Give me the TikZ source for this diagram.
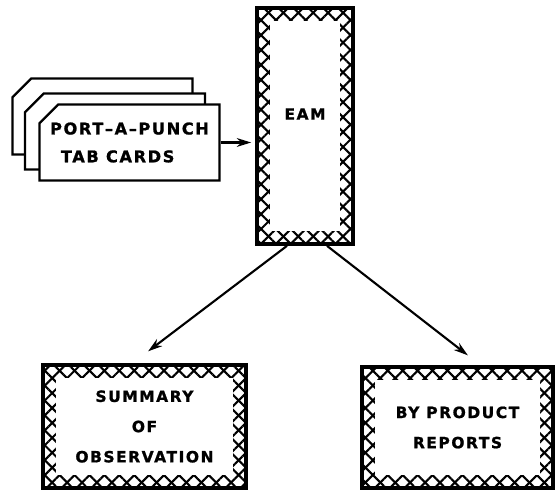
\documentclass[tikz,border=0pt]{standalone}
\usepackage{fontspec}
\newfontfamily\labelfont[LetterSpace=10,FakeBold=1.2]{DejaVu Sans}
\usepackage{tikz}
\usetikzlibrary{arrows.meta, positioning, shapes.misc, patterns.meta}

\begin{document}
\begin{tikzpicture}[
    x=0.025cm, y=-0.025cm,
    every node/.style={font=\labelfont\bfseries\fontsize{11pt}{21.5pt}\selectfont},
    card/.style={chamfered rectangle, chamfered rectangle corners=north west,
        chamfered rectangle xsep=0.2cm, chamfered rectangle ysep=0.27cm,
        draw, fill=white, line width=1.6pt, minimum width=4.5cm, minimum height=1.9cm,
        inner sep=0pt},
    backcard/.style={card, text width=4cm, text height=1cm},
    hatchbox/.style={draw, line width=2.6pt, inner sep=0pt, align=center,
        path picture={
            \foreach \a in {45,-45}
                \fill[pattern={Lines[angle=\a, distance=7.5pt, line width=1.5pt]}, even odd rule]
                    (path picture bounding box.south west) rectangle (path picture bounding box.north east)
                    ([shift={(0.32cm,0.32cm)}]path picture bounding box.south west) rectangle
                    ([shift={(-0.32cm,-0.32cm)}]path picture bounding box.north east);
        }},
    flow/.style={-{Stealth[length=3.6mm, width=2.2mm]}, line width=1.5pt}
]
    \useasboundingbox (0,0) rectangle (558,490);

    \node[backcard] (card3) at (102.5,116.5) {};
    \node[backcard] (card2) at (115,131.5) {};
    \node[card, align=left, font=\labelfont\bfseries\fontsize{11.5pt}{19.8pt}\selectfont] (card1) at (129.5,142.5)
        {PORT–A–PUNCH\\\hspace{0.27cm}TAB CARDS};

    \node[hatchbox, minimum width=2.4cm, minimum height=5.9cm, text depth=0.6cm] (eam) at (305,126) {EAM};
    \node[hatchbox, minimum width=5.075cm, minimum height=3.075cm] (summary) at (144.5,426.5) {SUMMARY\\OF\\OBSERVATION};
    \node[hatchbox, minimum width=4.775cm, minimum height=3.025cm] (byprod) at (457.5,427.5) {BY PRODUCT\\REPORTS};

    \draw[flow, shorten >=0.1cm] (card1.east) -- (card1.east -| eam.west);
    \draw[flow, shorten >=0.49cm] ([xshift=-0.45cm]eam.south) -- ([xshift=-0.3cm]summary.north);
    \draw[flow, shorten >=0.4cm] ([xshift=0.55cm]eam.south) -- ([xshift=0.575cm]byprod.north);
\end{tikzpicture}
\end{document}
